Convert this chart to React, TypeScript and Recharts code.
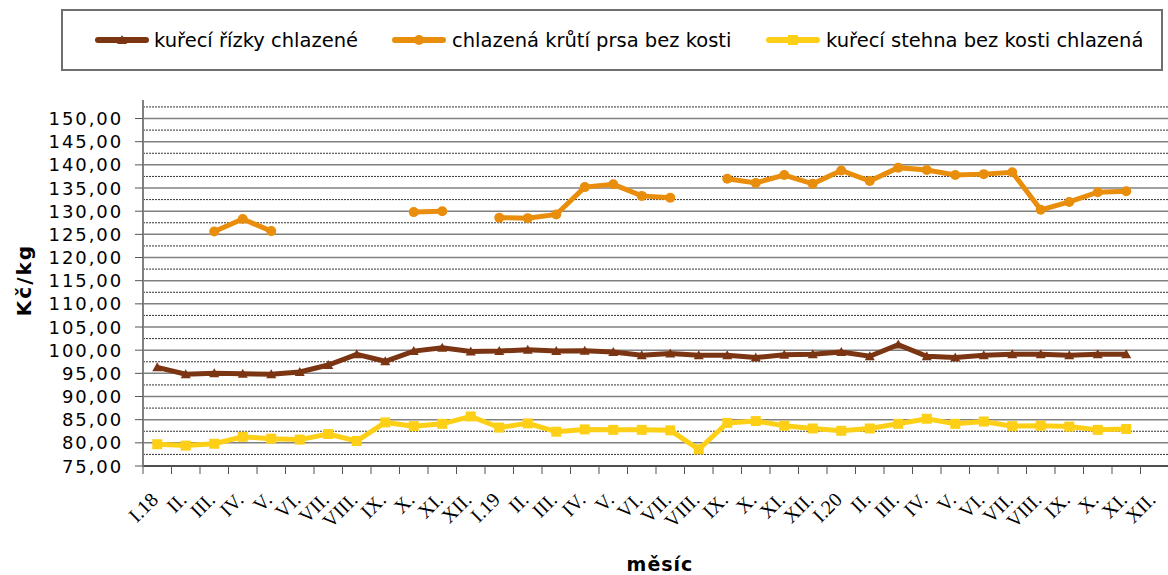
import React from "react";
import { Legend, Line, LineChart, ReferenceLine, XAxis, YAxis } from "recharts";

// months I.18 .. XII.20
const months = [
  "I.18", "II.", "III.", "IV.", "V.", "VI.", "VII.", "VIII.", "IX.", "X.", "XI.", "XII.",
  "I.19", "II.", "III.", "IV.", "V.", "VI.", "VII.", "VIII.", "IX.", "X.", "XI.", "XII.",
  "I.20", "II.", "III.", "IV.", "V.", "VI.", "VII.", "VIII.", "IX.", "X.", "XI.", "XII.",
];

const rizky = [
  96.3, 94.8, 95.0, 94.9, 94.8, 95.3, 96.8, 99.1, 97.6, 99.8, 100.5, 99.7,
  99.8, 100.1, 99.8, 99.9, 99.6, 98.9, 99.3, 98.9, 98.9, 98.4, 99.0, 99.1,
  99.6, 98.7, 101.2, 98.7, 98.4, 98.9, 99.1, 99.1, 98.9, 99.1, 99.1, null,
];

const krutiPrsa = [
  null, null, 125.6, 128.3, 125.7, null, null, null, null, 129.8, 130.0, null,
  128.6, 128.5, 129.3, 135.2, 135.8, 133.3, 132.9, null, 137.0, 136.1, 137.8, 135.9,
  138.8, 136.5, 139.4, 138.9, 137.8, 138.0, 138.4, 130.3, 132.0, 134.1, 134.3, null,
];

const stehna = [
  79.7, 79.4, 79.8, 81.3, 80.9, 80.7, 81.9, 80.4, 84.4, 83.6, 84.1, 85.7,
  83.3, 84.2, 82.4, 82.9, 82.8, 82.8, 82.7, 78.6, 84.3, 84.7, 83.7, 83.1,
  82.6, 83.1, 84.1, 85.2, 84.1, 84.6, 83.6, 83.7, 83.5, 82.8, 83.0, null,
];

const yTicks = [75, 80, 85, 90, 95, 100, 105, 110, 115, 120, 125, 130, 135, 140, 145, 150];
const minorTicks = yTicks.map((v) => v + 2.5);

const series = [
  { key: "rizky", name: "kuřecí řízky chlazené", color: "#7B3512", shape: "triangle" },
  { key: "kruti", name: "chlazená krůtí prsa bez kosti", color: "#E98E0C", shape: "circle" },
  { key: "stehna", name: "kuřecí stehna bez kosti chlazená", color: "#FDD017", shape: "square" },
];

const data = months.map((m, i) => ({
  month: m,
  rizky: rizky[i],
  kruti: krutiPrsa[i],
  stehna: stehna[i],
}));

const font = "'DejaVu Sans', Verdana, sans-serif";

// plot geometry
const PLOT_LEFT = 143;
const PLOT_RIGHT = 1169;
const PLOT_TOP = 100;
const PLOT_BOTTOM = 466;
const BAND = (PLOT_RIGHT - PLOT_LEFT) / months.length;

// legend item positions (sample line start, text start)
const legendLineX = [95, 392, 766];
const legendTextX = [154, 452, 826];

function Marker({ cx, cy, shape, color }: any) {
  if (cx == null || cy == null) return null;
  if (shape === "triangle")
    return <polygon points={`${cx},${cy - 5} ${cx + 5},${cy + 4} ${cx - 5},${cy + 4}`} fill={color} />;
  if (shape === "square")
    return <rect x={cx - 5} y={cy - 5} width={10} height={10} fill={color} />;
  return <circle cx={cx} cy={cy} r={5} fill={color} />;
}

function XTick({ x, payload, index }: any) {
  const ax = x + 2;
  const ay = PLOT_BOTTOM + 35;
  return (
    <g>
      <line x1={x - BAND / 2} y1={PLOT_BOTTOM} x2={x - BAND / 2} y2={PLOT_BOTTOM + 8} stroke="#555" />
      {index === months.length - 1 && (
        <line x1={x + BAND / 2} y1={PLOT_BOTTOM} x2={x + BAND / 2} y2={PLOT_BOTTOM + 8} stroke="#555" />
      )}
      <text
        x={ax}
        y={ay}
        transform={`rotate(-45, ${ax}, ${ay})`}
        textAnchor="end"
        fontFamily="'Liberation Serif', 'Times New Roman', serif"
        fontSize={20}
        fill="#000"
      >
        {payload.value}
      </text>
    </g>
  );
}

function YTick({ y, payload }: any) {
  return (
    <g>
      <line x1={PLOT_LEFT - 8} y1={y} x2={PLOT_LEFT} y2={y} stroke="#555" />
      <text x={123} y={y + 6.5} textAnchor="end" fontFamily={font} fontSize={18} letterSpacing={1.9} fill="#000">
        {payload.value.toFixed(2).replace(".", ",")}
      </text>
    </g>
  );
}

function LegendBox() {
  return (
    <svg width={1168} height={80} style={{ position: "absolute", left: 0, top: 0 }}>
      <rect x={62} y={10} width={1100} height={60} fill="#fff" stroke="#6e6e6e" strokeWidth={2} />
      {series.map((s, i) => (
        <g key={s.key}>
          <line x1={legendLineX[i] + 3} y1={40} x2={legendLineX[i] + 51} y2={40} stroke={s.color} strokeWidth={6} strokeLinecap="round" />
          <Marker cx={legendLineX[i] + 27} cy={40} shape={s.shape} color={s.color} />
          <text x={legendTextX[i]} y={46.5} fontFamily={font} fontSize={19.5} fill="#000">
            {s.name}
          </text>
        </g>
      ))}
    </svg>
  );
}

export default function App() {
  return (
    <div style={{ position: "absolute", left: 0, top: 0, width: 1168, height: 575, overflow: "hidden", background: "#fff" }}>
      <LegendBox />
      <LineChart
        width={1180}
        height={575}
        data={data}
        margin={{ top: PLOT_TOP, right: 11, bottom: 49, left: 0 }}
        style={{ position: "absolute", left: 0, top: 0 }}
      >
        {yTicks.map((v) => (
          <ReferenceLine key={`M${v}`} y={v} stroke="#808080" strokeWidth={1.5} />
        ))}
        {minorTicks.map((v) => (
          <ReferenceLine key={`m${v}`} y={v} stroke="#333" strokeWidth={1} strokeDasharray="2 1" />
        ))}
        <XAxis
          dataKey="month"
          interval={0}
          height={60}
          padding={{ left: BAND / 2, right: BAND / 2 }}
          tick={<XTick />}
          tickLine={false}
          axisLine={{ stroke: "#333", strokeWidth: 1.5 }}
        />
        <YAxis
          width={PLOT_LEFT}
          domain={[75, 154]}
          ticks={yTicks}
          interval={0}
          allowDataOverflow
          tick={<YTick />}
          tickLine={false}
          axisLine={{ stroke: "#808080", strokeWidth: 2 }}
        />
        <Legend content={() => null} />
        {series.map((s) => (
          <Line
            key={s.key}
            dataKey={s.key}
            name={s.name}
            stroke={s.color}
            strokeWidth={5}
            connectNulls={false}
            isAnimationActive={false}
            dot={(p: any) => <Marker key={`${s.key}-${p.index}`} cx={p.cx} cy={p.cy} shape={s.shape} color={s.color} />}
            activeDot={false}
          />
        ))}
      </LineChart>
      <svg width={1168} height={575} style={{ position: "absolute", left: 0, top: 0, pointerEvents: "none" }}>
        <text
          x={24}
          y={280}
          transform="rotate(-90, 24, 280)"
          textAnchor="middle"
          dominantBaseline="central"
          fontFamily={font}
          fontWeight="bold"
          fontSize={20}
          letterSpacing={2}
          fill="#000"
        >
          Kč/kg
        </text>
        <text
          x={(PLOT_LEFT + PLOT_RIGHT) / 2 + 4}
          y={571}
          textAnchor="middle"
          fontFamily={font}
          fontWeight="bold"
          fontSize={19}
          letterSpacing={1}
          fill="#000"
        >
          měsíc
        </text>
      </svg>
    </div>
  );
}
